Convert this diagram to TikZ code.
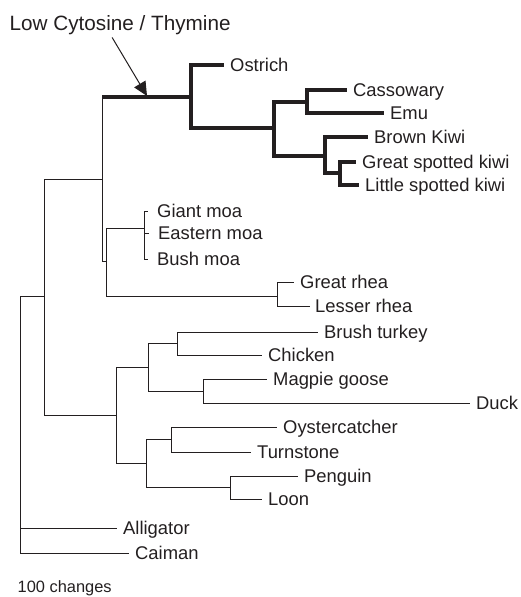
\documentclass[tikz,border=0pt]{standalone}
\usepackage{fontspec}
\setmainfont{Liberation Sans}
\definecolor{ink}{RGB}{35, 31, 32}
\usetikzlibrary{arrows.meta, calc}

\begin{document}
\begin{tikzpicture}[x=1pt, y=-1pt,
    branch/.style={draw=ink, line width=0.95pt},
    ctbranch/.style={draw=ink, line width=3.3pt},
    leaf/.style={anchor=west, inner sep=0pt, text=ink,
        font=\fontsize{18.4}{20}\selectfont, text height=13.2pt, text depth=0pt}]
                \useasboundingbox (0,0) rectangle (520,597);

                % Title and scale note
                \node[anchor=base west, inner sep=0pt, text=ink, font=\fontsize{20.7}{24}\selectfont]
                    (title) at (9.5,30) {Low Cytosine / Thymine};
                \node[anchor=base west, inner sep=0pt, text=ink, font=\fontsize{16.4}{19}\selectfont]
                    (changes) at (17.5,592) {100 changes};

                % Internal nodes
                \coordinate (root) at (20,296);
                \coordinate (aves) at (44,296);
                \coordinate (palaeo) at (102,179);
                \coordinate (ratites) at (191,97);
                \coordinate (casskiwi) at (274,128);
                \coordinate (cassemu) at (307,102);
                \coordinate (kiwis) at (325,156);
                \coordinate (spotted) at (340,173);
                \coordinate (moarhea) at (106,261);
                \coordinate (moa) at (144,228);
                \coordinate (rhea) at (277,296);
                \coordinate (neo) at (116,415);
                \coordinate (galloans) at (148,367);
                \coordinate (galli) at (177,343);
                \coordinate (anseri) at (203,391);
                \coordinate (neoaves) at (146,463);
                \coordinate (charadrii) at (171,439);
                \coordinate (penloon) at (230,487);
                \coordinate (lct) at (147,96);

                % Taxa
                \node[leaf] (ostrich) at (230,65) {Ostrich};
                \node[leaf] (cassowary) at (353,90) {Cassowary};
                \node[leaf] (emu) at (390,113) {Emu};
                \node[leaf] (brownkiwi) at (374,137) {Brown Kiwi};
                \node[leaf] (greatkiwi) at (362,162) {Great spotted kiwi};
                \node[leaf] (littlekiwi) at (365,185) {Little spotted kiwi};
                \node[leaf] (giantmoa) at (157,211) {Giant moa};
                \node[leaf] (easternmoa) at (158,233) {Eastern moa};
                \node[leaf] (bushmoa) at (157,259) {Bush moa};
                \node[leaf] (greatrhea) at (300,282) {Great rhea};
                \node[leaf] (lesserrhea) at (315,306) {Lesser rhea};
                \node[leaf] (brushturkey) at (324,332) {Brush turkey};
                \node[leaf] (chicken) at (268,355) {Chicken};
                \node[leaf] (magpiegoose) at (273,379) {Magpie goose};
                \node[leaf] (duck) at (476,403) {Duck};
                \node[leaf] (oystercatcher) at (283,427) {Oystercatcher};
                \node[leaf] (turnstone) at (257,452) {Turnstone};
                \node[leaf] (penguin) at (304,476) {Penguin};
                \node[leaf] (loon) at (268,499) {Loon};
                \node[leaf] (alligator) at (123,528) {Alligator};
                \node[leaf] (caiman) at (135,553) {Caiman};

                % Backbone
                \draw[branch] (root) |- (aves);
                \draw[branch] (root) |- ([xshift=-6.5pt]alligator.west);
                \draw[branch] (root) |- ([xshift=-6.5pt]caiman.west);
                \draw[branch] (aves) |- (palaeo);
                \draw[branch] (aves) |- (neo);

                % Palaeognaths, ratite branch in bold
                \draw[branch] (palaeo) -- (palaeo |- ratites);
                \draw[ctbranch] (palaeo |- ratites) -- (ratites);
                \draw[branch] (palaeo) |- (moarhea);
                \draw[ctbranch] (ratites) |- ([xshift=-6.5pt]ostrich.west);
                \draw[ctbranch] (ratites) |- (casskiwi);
                \draw[ctbranch] (casskiwi) |- (cassemu);
                \draw[ctbranch] (casskiwi) |- (kiwis);
                \draw[ctbranch] (cassemu) |- ([xshift=-6.5pt]cassowary.west);
                \draw[ctbranch] (cassemu) |- ([xshift=-6.5pt]emu.west);
                \draw[ctbranch] (kiwis) |- ([xshift=-6.5pt]brownkiwi.west);
                \draw[ctbranch] (kiwis) |- (spotted);
                \draw[ctbranch] (spotted) |- ([xshift=-6.5pt]greatkiwi.west);
                \draw[ctbranch] (spotted) |- ([xshift=-6.5pt]littlekiwi.west);

                % Moas and rheas
                \draw[branch] (moarhea) |- (moa);
                \draw[branch] (moarhea) |- (rhea);
                \draw[branch] (moa) |- ([xshift=-9pt]giantmoa.west);
                \draw[branch] (moa) |- ([xshift=-9pt]easternmoa.west);
                \draw[branch] (moa) |- ([xshift=-9pt]bushmoa.west);
                \draw[branch] (rhea) |- ([xshift=-6.5pt]greatrhea.west);
                \draw[branch] (rhea) |- ([xshift=-5pt]lesserrhea.west);

                % Neognaths
                \draw[branch] (neo) |- (galloans);
                \draw[branch] (neo) |- (neoaves);
                \draw[branch] (galloans) |- (galli);
                \draw[branch] (galloans) |- (anseri);
                \draw[branch] (galli) |- ([xshift=-6.5pt]brushturkey.west);
                \draw[branch] (galli) |- ([xshift=-6.5pt]chicken.west);
                \draw[branch] (anseri) |- ([xshift=-6.5pt]magpiegoose.west);
                \draw[branch] (anseri) |- ([xshift=-6.5pt]duck.west);
                \draw[branch] (neoaves) |- (charadrii);
                \draw[branch] (neoaves) |- (penloon);
                \draw[branch] (charadrii) |- ([xshift=-6.5pt]oystercatcher.west);
                \draw[branch] (charadrii) |- ([xshift=-6.5pt]turnstone.west);
                \draw[branch] (penloon) |- ([xshift=-6.5pt]penguin.west);
                \draw[branch] (penloon) |- ([xshift=-6.5pt]loon.west);

                % Arrow to the low C/T branch
                \draw[branch, line width=1pt, -{Triangle[length=14pt, width=13pt]}]
                    ([shift={(-8pt,-3pt)}]title.south) -- (lct);
            \end{tikzpicture}
\end{document}
